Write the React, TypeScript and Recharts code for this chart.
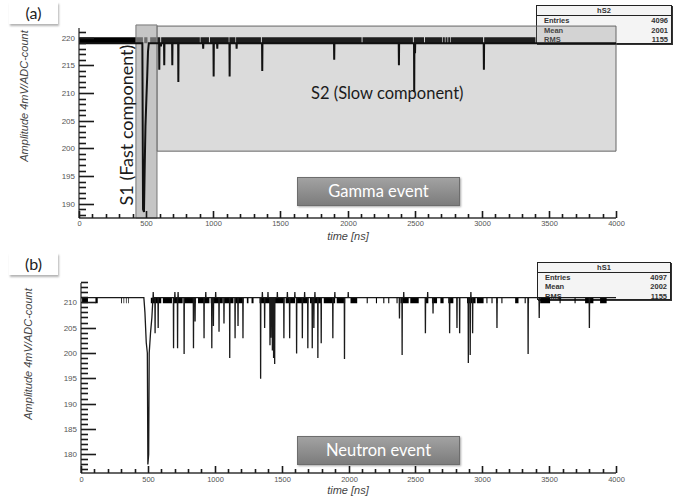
import React from 'react';
import { ComposedChart, Line, Area, XAxis, YAxis, ReferenceArea } from 'recharts';

// shared time axis [ns]
const timeDomain = [0, 4000];
const timeTicks = Array.from({ length: 41 }, (_, i) => i * 100);

// (a) gamma event, histogram hS2
const gammaDomain = [187.42, 221.75];
const gammaTicks = Array.from({ length: 34 }, (_, i) => 188 + i);
const gammaBase = 219;
const gammaBandLevels = [219, 220.1];
const gammaBand = [
  [0, 476], [486, 510], [530, 605], [612, 900], [905, 968], [975, 1115], [1120, 1165],
  [1170, 1355], [1362, 2105], [2112, 2487], [2494, 2570], [2577, 2705], [2710, 2725],
  [2730, 2745], [2750, 2765], [2770, 3010], [3018, 3400],
];
const gammaPulse = [
  [472, 219], [477, 189], [484, 188.5], [489, 196], [495, 204], [502, 209], [508, 213], [514, 217.5], [520, 219],
];
const gammaDips = [
  [598, 214.2], [611, 218.4], [635, 215], [695, 215], [740, 212], [925, 218], [1003, 213], [1030, 218],
  [1122, 213], [1174, 218], [1365, 214], [1901, 216], [2383, 215], [2497, 210.2], [2503, 217.2], [3016, 214.2],
];
const gammaS1 = [424, 581, 222.3];
const gammaS2 = [581, 4000, 199.5, 222.1];
const gammaStats = [['Entries', '4096'], ['Mean', '2001'], ['RMS', '1155']];

// (b) neutron event, histogram hS1
const neutronDomain = [176.3, 213.8];
const neutronTicks = Array.from({ length: 38 }, (_, i) => 177 + i);
const neutronBase = 210.9;
const neutronBandLevels = [209.8, 210.9];
const neutronBand = [
  [8, 52], [108, 125], [300, 306], [318, 323], [336, 341], [352, 357],
  [522, 600], [612, 680], [690, 760], [770, 860], [875, 960], [970, 1060], [1070, 1140], [1150, 1215],
  [1240, 1252], [1275, 1290],
  [1335, 1420], [1430, 1520], [1530, 1600], [1610, 1700], [1712, 1800], [1815, 1900], [1912, 1975],
  [2015, 2065], [2136, 2144], [2205, 2213], [2260, 2268], [2297, 2305],
  [2359, 2367], [2388, 2450], [2462, 2525], [2575, 2597], [2624, 2662], [2687, 2711], [2746, 2784], [2886, 2950],
  [2960, 3010], [3031, 3039], [3069, 3077], [3106, 3114], [3143, 3151], [3246, 3271], [3317, 3325], [3342, 3350],
  [3433, 3507], [3578, 3586], [3690, 3698], [3769, 3831], [3881, 3930],
];
const neutronPulse = [
  [470, 210.9], [478, 208], [488, 202], [496, 200], [500, 178], [506, 180], [510, 200], [520, 204], [530, 207], [538, 210.9],
];
const neutronDips = [
  [540, 212], [554, 203.9], [577, 204.9], [692, 200.9], [702, 212], [722, 200.9], [726, 212], [771, 199.8],
  [841, 200.9], [853, 206.2], [920, 202.9], [933, 212], [978, 200.9], [990, 205.3], [1007, 212], [1032, 204.2],
  [1069, 205.8], [1112, 199], [1152, 202.9], [1174, 205.3], [1211, 202.9], [1343, 194.9], [1356, 212],
  [1373, 204.9], [1398, 212], [1413, 201.5], [1420, 203], [1431, 200.5], [1440, 199], [1448, 197.8],
  [1468, 212], [1517, 202.9], [1543, 212], [1560, 202.9], [1599, 212], [1612, 199.9], [1655, 202.9],
  [1672, 212], [1696, 200.9], [1729, 200.9], [1741, 204.9], [1749, 212], [1771, 199], [1796, 201.9],
  [1883, 202.9], [1898, 212], [1970, 198.8], [1998, 212], [2381, 206.8], [2401, 199.6], [2413, 212],
  [2575, 203.9], [2592, 212], [2632, 207.8], [2756, 203.9], [2811, 204.9], [2831, 203.9], [2896, 198],
  [2910, 199.6], [2915, 212], [2928, 203.9], [3110, 204.9], [3343, 199.8], [3426, 206.9], [3801, 204.9],
];
const neutronStats = [['Entries', '4097'], ['Mean', '2002'], ['RMS', '1155']];

// baseline with a pulse and single-bin excursions
function buildTrace(base: number, pulse: number[][], dips: number[][]) {
  const pts = [{ t: 0, y: base }, { t: 4000, y: base }];
  pulse.forEach(([t, y]) => pts.push({ t, y }));
  dips.forEach(([t, y]) => {
    pts.push({ t: t - 1.5, y: base }, { t, y }, { t: t + 1.5, y: base });
  });
  return pts.sort((a, b) => a.t - b.t);
}

// dense noise band, broken into segments
function buildBand(segs: number[][], lo: number, hi: number) {
  const rows: { t: number; band: number[] | null }[] = [];
  segs.forEach(([s, e]) => {
    rows.push({ t: s, band: [lo, hi] }, { t: e, band: [lo, hi] }, { t: e + 0.5, band: null });
  });
  return rows;
}

const tickFont = 'Liberation Sans, Arial, sans-serif';
const tickColor = '#1a1a1a';

// ticks point inward, labels outside
const makeYTick = () => (props: any) => {
  const { x, y, payload } = props;
  const v = payload.value;
  const major = v % 5 === 0;
  const px = Number(x);
  const py = Math.round(Number(y)) + 0.5;
  return (
    <g>
      <path d={`M${px},${py}h${major ? 15 : 7}`} stroke={tickColor} strokeWidth={1.6} fill="none" />
      {major && (
        <text x={px - 4} y={py + 2.8} textAnchor="end" fontSize={8} fill="#555" fontFamily={tickFont}>
          {v}
        </text>
      )}
    </g>
  );
};

const makeXTick = (dy: number) => (props: any) => {
  const { x, y, payload } = props;
  const v = payload.value;
  const major = v % 500 === 0;
  const px = Math.round(Number(x)) + 0.5;
  const py = Number(y);
  return (
    <g>
      <path d={`M${px},${py}v${major ? -7 : -4}`} stroke={tickColor} strokeWidth={1.6} fill="none" />
      {major && (
        <text x={px} y={py + dy} textAnchor="middle" fontSize={7.5} fill="#555" fontFamily={tickFont}>
          {v}
        </text>
      )}
    </g>
  );
};

const axisStroke = { stroke: '#333', strokeWidth: 1.3 };

function StatsBox({ title, rows, left, top, width, height }: any) {
  const rowH = (height - 10) / 3;
  return (
    <div
      style={{
        position: 'absolute', left, top, width, height, boxSizing: 'border-box',
        border: '1px solid #222', background: '#f4f4f4', boxShadow: '1px 1px 0 #333',
        fontFamily: tickFont, fontSize: 7.5, fontWeight: 'bold', color: '#333',
      }}
    >
      <div style={{ height: 9, lineHeight: '9px', textAlign: 'center', borderBottom: '1px solid #222' }}>{title}</div>
      {rows.map(([k, v]: string[]) => (
        <div key={k} style={{ height: rowH, lineHeight: `${rowH}px`, display: 'flex', justifyContent: 'space-between', padding: '0 3px 0 7px' }}>
          <span>{k}</span>
          <span>{v}</span>
        </div>
      ))}
    </div>
  );
}

function PanelTag({ text, top }: { text: string; top: number }) {
  return (
    <div
      style={{
        position: 'absolute', left: 9, top, width: 49, height: 22, background: '#fff',
        boxShadow: '1px 2px 2px rgba(0,0,0,0.3)', textAlign: 'center', lineHeight: '22px',
        fontFamily: 'Lato, sans-serif', fontSize: 16, color: '#222',
      }}
    >
      {text}
    </div>
  );
}

function EventBox({ text, top }: { text: string; top: number }) {
  return (
    <div
      style={{
        position: 'absolute', left: 297, top, width: 163, height: 29, boxSizing: 'border-box',
        background: 'linear-gradient(#a2a2a2, #7c7c7c)', border: '1px solid #6d6d6d',
        boxShadow: '1px 1px 2px rgba(0,0,0,0.35)', color: '#fff', textAlign: 'center',
        lineHeight: '27px', fontFamily: 'Lato, sans-serif', fontSize: 16.5,
      }}
    >
      {text}
    </div>
  );
}

const yTitleStyle: React.CSSProperties = {
  position: 'absolute', width: 200, textAlign: 'center', transform: 'rotate(-90deg)',
  fontFamily: tickFont, fontStyle: 'italic', fontSize: 11, color: '#444',
};
const xTitleStyle: React.CSSProperties = {
  position: 'absolute', width: 100, textAlign: 'center',
  fontFamily: tickFont, fontStyle: 'italic', fontSize: 11, color: '#444',
};

export default function App() {
  const gammaTrace = buildTrace(gammaBase, gammaPulse, gammaDips);
  const gammaBandRows = buildBand(gammaBand, gammaBandLevels[0], gammaBandLevels[1]);
  const neutronTrace = buildTrace(neutronBase, neutronPulse, neutronDips);
  const neutronBandRows = buildBand(neutronBand, neutronBandLevels[0], neutronBandLevels[1]);

  return (
    <div style={{ position: 'absolute', left: 0, top: 0, width: 676, height: 497, background: '#fff' }}>
      <PanelTag text="(a)" top={2} />
      <PanelTag text="(b)" top={253} />
      <StatsBox title="hS2" rows={gammaStats} left={536} top={5} width={136} height={39} />
      <StatsBox title="hS1" rows={neutronStats} left={537} top={262} width={134} height={38} />

      <div style={{ position: 'absolute', left: 0, top: 0 }}>
        <ComposedChart width={676} height={250} margin={{ top: 28, right: 60, bottom: 2, left: 0 }}>
          <XAxis dataKey="t" type="number" domain={timeDomain} ticks={timeTicks} interval={0}
            height={30} tickSize={0} tickMargin={0} tickLine={false} axisLine={axisStroke} tick={makeXTick(7.5)} allowDataOverflow />
          <XAxis xAxisId="top" orientation="top" type="number" domain={timeDomain} height={0}
            tick={false} tickLine={false} axisLine={axisStroke} />
          <YAxis type="number" domain={gammaDomain} ticks={gammaTicks} interval={0} width={79}
            tickSize={0} tickMargin={0} tickLine={false} axisLine={axisStroke} tick={makeYTick()} allowDataOverflow />
          <YAxis yAxisId="right" orientation="right" type="number" domain={gammaDomain} width={0}
            tick={false} tickLine={false} axisLine={axisStroke} />
          <Area data={gammaBandRows} dataKey="band" type="linear" stroke="none" fill="#000" fillOpacity={1}
            isAnimationActive={false} dot={false} activeDot={false} />
          <Line data={gammaTrace} dataKey="y" type="linear" stroke="#111" strokeWidth={2}
            isAnimationActive={false} dot={false} activeDot={false} />
          <ReferenceArea x1={gammaS2[0]} x2={gammaS2[1]} y1={gammaS2[2]} y2={gammaS2[3]} ifOverflow="visible"
            fill="#737373" fillOpacity={0.26} stroke="#666" strokeWidth={1} />
          <ReferenceArea x1={gammaS1[0]} x2={gammaS1[1]} y1={gammaDomain[0]} y2={gammaS1[2]} ifOverflow="visible"
            fill="#a7a7a7" fillOpacity={0.66} stroke="#777" strokeWidth={1} />
        </ComposedChart>
      </div>

      <div style={{ position: 'absolute', left: 0, top: 250 }}>
        <ComposedChart width={676} height={247} margin={{ top: 33, right: 60, bottom: 0, left: 2 }}>
          <XAxis dataKey="t" type="number" domain={timeDomain} ticks={timeTicks} interval={0}
            height={24} tickSize={0} tickMargin={0} tickLine={false} axisLine={axisStroke} tick={makeXTick(9)} allowDataOverflow />
          <XAxis xAxisId="top" orientation="top" type="number" domain={timeDomain} height={0}
            tick={false} tickLine={false} axisLine={axisStroke} />
          <YAxis type="number" domain={neutronDomain} ticks={neutronTicks} interval={0} width={79}
            tickSize={0} tickMargin={0} tickLine={false} axisLine={axisStroke} tick={makeYTick()} allowDataOverflow />
          <YAxis yAxisId="right" orientation="right" type="number" domain={neutronDomain} width={0}
            tick={false} tickLine={false} axisLine={axisStroke} />
          <Area data={neutronBandRows} dataKey="band" type="linear" stroke="none" fill="#000" fillOpacity={1}
            isAnimationActive={false} dot={false} activeDot={false} />
          <Line data={neutronTrace} dataKey="y" type="linear" stroke="#1a1a1a" strokeWidth={1.3}
            isAnimationActive={false} dot={false} activeDot={false} />
        </ComposedChart>
      </div>

      <div style={{ ...yTitleStyle, left: 24 - 100, top: 97 - 7 }}>Amplitude 4mV/ADC-count</div>
      <div style={{ ...yTitleStyle, left: 28 - 100, top: 355 - 7 }}>Amplitude 4mV/ADC-count</div>
      <div style={{ ...xTitleStyle, left: 298, top: 230 }}>time [ns]</div>
      <div style={{ ...xTitleStyle, left: 298, top: 484 }}>time [ns]</div>

      <div style={{
        position: 'absolute', left: 126 - 100, top: 125 - 11, width: 200, textAlign: 'center',
        transform: 'rotate(-90deg)', fontFamily: 'Lato, sans-serif', fontSize: 18, color: '#1a1a1a', lineHeight: '22px',
      }}>S1 (Fast component)</div>
      <div style={{
        position: 'absolute', left: 311, top: 83, fontFamily: 'Lato, sans-serif', fontSize: 16.5, color: '#1a1a1a',
      }}>S2 (Slow component)</div>

      <EventBox text="Gamma event" top={177} />
      <EventBox text="Neutron event" top={436} />
    </div>
  );
}
